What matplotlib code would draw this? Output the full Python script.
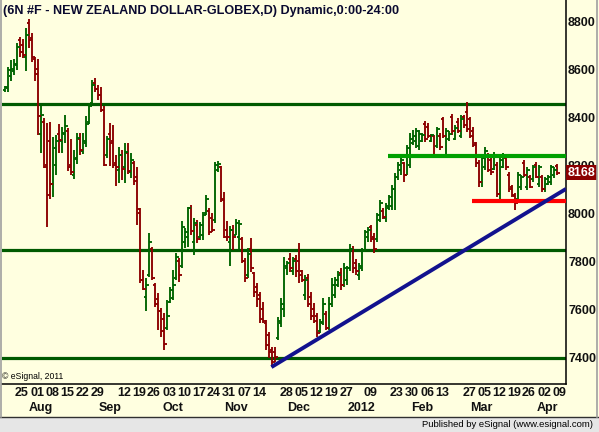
import matplotlib
matplotlib.use("Agg")
import matplotlib.pyplot as plt
import matplotlib.transforms as mtransforms
from matplotlib.lines import Line2D
from matplotlib.patches import Rectangle
import pandas as pd

plt.rcParams['font.family'] = ['Liberation Sans', 'DejaVu Sans']

# ---------------- data ----------------
opens = [8512, 8520, 8570, 8590, 8615, 8720, 8700, 8650, 8790, 8730,
         8640, 8600, 8330, 8380, 8200, 8300, 8120, 8200, 8330, 8300,
         8330, 8340, 8200, 8160, 8230, 8310, 8260, 8290, 8380, 8460,
         8540, 8515, 8490, 8430, 8240, 8330, 8300, 8210, 8180, 8240,
         8190, 8250, 8170, 8210, 8150, 8000, 7720, 7650, 7740, 7850,
         7700, 7640, 7590, 7560, 7520, 7630, 7645, 7730, 7800, 7780,
         7880, 7900, 8020, 7880, 7950, 7900, 7910, 8000, 8010, 7980,
         7970, 8180, 8190, 8055, 7930, 7880, 7930, 7910, 7900, 7890,
         7800, 7740, 7850, 7750, 7690, 7660, 7600, 7540, 7490, 7430,
         7420, 7480, 7540, 7600, 7770, 7810, 7760, 7810, 7800, 7760,
         7660, 7730, 7650, 7600, 7570, 7510, 7540, 7580, 7520, 7620,
         7660, 7700, 7750, 7700, 7720, 7770, 7850, 7790, 7740, 7770,
         7845, 7900, 7940, 7900, 7890, 7970, 8010, 7980, 8020, 8030,
         8100, 8150, 8180, 8210, 8160, 8200, 8290, 8300, 8280, 8300,
         8370, 8360, 8300, 8320, 8280, 8320, 8390, 8240, 8310, 8400,
         8310, 8380, 8320, 8400, 8420, 8390, 8340, 8290, 8210, 8130,
         8190, 8240, 8220, 8185, 8200, 8080, 8190, 8230, 8160, 8110,
         8070, 8060, 8110, 8210, 8110, 8150, 8140, 8200, 8120, 8150,
         8100, 8120, 8130, 8160, 8195]
highs = [8530, 8608, 8637, 8642, 8707, 8732, 8724, 8769, 8807, 8749,
         8651, 8640, 8446, 8394, 8374, 8381, 8318, 8325, 8371, 8360,
         8408, 8353, 8307, 8263, 8332, 8335, 8332, 8404, 8457, 8554,
         8562, 8533, 8525, 8446, 8321, 8376, 8367, 8242, 8276, 8263,
         8293, 8290, 8249, 8218, 8193, 8020, 7762, 7728, 7915, 7860,
         7710, 7665, 7603, 7582, 7637, 7693, 7762, 7832, 7811, 7965,
         7936, 8026, 8033, 7978, 7971, 7964, 8005, 8075, 8019, 7998,
         8214, 8217, 8196, 8089, 7965, 7945, 7950, 7975, 7972, 7900,
         7811, 7853, 7894, 7756, 7707, 7672, 7630, 7554, 7505, 7443,
         7443, 7568, 7644, 7818, 7800, 7832, 7818, 7825, 7874, 7762,
         7741, 7745, 7672, 7624, 7582, 7560, 7644, 7590, 7650, 7728,
         7732, 7760, 7770, 7790, 7780, 7870, 7862, 7810, 7790, 7853,
         7930, 7943, 7950, 7915, 7998, 8054, 8020, 8040, 8075, 8117,
         8165, 8214, 8228, 8214, 8283, 8332, 8346, 8355, 8346, 8332,
         8383, 8374, 8328, 8325, 8360, 8332, 8401, 8353, 8340, 8411,
         8367, 8395, 8408, 8408, 8464, 8401, 8360, 8297, 8221, 8242,
         8276, 8249, 8235, 8256, 8214, 8240, 8249, 8242, 8172, 8117,
         8082, 8172, 8158, 8221, 8193, 8158, 8200, 8214, 8200, 8158,
         8151, 8158, 8200, 8190, 8203]
lows = [8505, 8505, 8551, 8575, 8596, 8649, 8644, 8593, 8689, 8630,
        8551, 8325, 8251, 8186, 7943, 8057, 8068, 8158, 8251, 8251,
        8293, 8176, 8157, 8143, 8204, 8242, 8245, 8276, 8371, 8455,
        8504, 8471, 8422, 8196, 8230, 8196, 8186, 8113, 8124, 8138,
        8124, 8163, 8145, 8117, 7950, 7707, 7679, 7593, 7735, 7721,
        7610, 7512, 7485, 7429, 7512, 7624, 7638, 7721, 7714, 7770,
        7853, 7860, 7908, 7825, 7874, 7887, 7887, 7992, 7908, 7922,
        7957, 8172, 8047, 7894, 7885, 7780, 7845, 7908, 7845, 7790,
        7714, 7728, 7756, 7651, 7610, 7540, 7540, 7429, 7395, 7360,
        7380, 7471, 7526, 7568, 7740, 7755, 7741, 7735, 7707, 7714,
        7637, 7610, 7554, 7540, 7485, 7500, 7533, 7512, 7512, 7610,
        7645, 7690, 7680, 7690, 7700, 7760, 7750, 7740, 7720, 7760,
        7840, 7880, 7880, 7832, 7880, 7964, 7975, 7964, 8012, 8012,
        8012, 8137, 8158, 8128, 8158, 8186, 8283, 8270, 8262, 8297,
        8297, 8311, 8297, 8228, 8270, 8262, 8311, 8228, 8300, 8325,
        8304, 8332, 8311, 8353, 8339, 8311, 8276, 8193, 8110, 8110,
        8179, 8172, 8158, 8179, 8068, 8060, 8186, 8179, 8089, 8068,
        8012, 8054, 8096, 8151, 8096, 8103, 8131, 8144, 8110, 8089,
        8089, 8117, 8117, 8145, 8158]
closes = [8525, 8595, 8600, 8620, 8690, 8670, 8660, 8740, 8720, 8650,
          8580, 8405, 8408, 8190, 8075, 8120, 8270, 8300, 8306, 8335,
          8361, 8190, 8172, 8225, 8311, 8263, 8300, 8370, 8446, 8535,
          8515, 8490, 8430, 8200, 8310, 8290, 8200, 8190, 8240, 8185,
          8254, 8175, 8220, 8135, 8015, 7720, 7685, 7700, 7880, 7730,
          7620, 7590, 7510, 7456, 7570, 7680, 7700, 7815, 7740, 7940,
          7920, 8020, 7925, 7960, 7890, 7950, 7990, 8060, 7920, 7930,
          8200, 8205, 8060, 7900, 7900, 7930, 7900, 7960, 7955, 7800,
          7730, 7830, 7770, 7670, 7640, 7560, 7550, 7450, 7420, 7380,
          7400, 7550, 7620, 7780, 7790, 7770, 7800, 7760, 7740, 7720,
          7720, 7620, 7570, 7550, 7500, 7545, 7620, 7520, 7620, 7700,
          7720, 7740, 7700, 7770, 7770, 7850, 7770, 7760, 7780, 7840,
          7920, 7930, 7890, 7850, 7990, 8040, 7985, 8030, 8065, 8100,
          8150, 8200, 8220, 8160, 8270, 8310, 8320, 8340, 8330, 8325,
          8310, 8320, 8325, 8240, 8350, 8275, 8320, 8340, 8330, 8340,
          8355, 8340, 8390, 8365, 8350, 8320, 8283, 8210, 8130, 8228,
          8260, 8180, 8170, 8240, 8080, 8220, 8240, 8190, 8100, 8075,
          8040, 8160, 8150, 8160, 8180, 8110, 8190, 8150, 8190, 8100,
          8140, 8150, 8190, 8180, 8168]

holidays = ['2011-09-05', '2011-11-24', '2011-12-26', '2012-01-02',
            '2012-01-16', '2012-02-20']
first_day, last_day = '2011-07-18', '2012-04-09'

day_label_dates = ['2011-07-25', '2011-08-01', '2011-08-08', '2011-08-15', '2011-08-22',
                   '2011-08-29', '2011-09-12', '2011-09-19', '2011-09-26', '2011-10-03',
                   '2011-10-10', '2011-10-17', '2011-10-24', '2011-10-31', '2011-11-07',
                   '2011-11-14', '2011-11-28', '2011-12-05', '2011-12-12', '2011-12-19',
                   '2011-12-27', '2012-01-09', '2012-01-23', '2012-01-30', '2012-02-06',
                   '2012-02-13', '2012-02-27', '2012-03-05', '2012-03-12', '2012-03-19',
                   '2012-03-26', '2012-04-02', '2012-04-09']
month_starts = ['2011-08-01', '2011-09-01', '2011-10-01', '2011-11-01', '2011-12-01',
                '2012-01-01', '2012-02-01', '2012-03-01', '2012-04-01']
month_labels = ['Aug', 'Sep', 'Oct', 'Nov', 'Dec', '2012', 'Feb', 'Mar', 'Apr']

support_levels = [8455, 7847, 7396]          # full-width dark green lines
green_level, green_from = 8237, '2012-01-19'  # short bright green line
red_level, red_from = 8052, '2012-02-29'      # short red line
trend_start = ('2011-11-21', 7358)            # blue trend line from the low
trend_slope = 7.56                            # price units per bar

title = "(6N #F - NEW ZEALAND DOLLAR-GLOBEX,D) Dynamic,0:00-24:00"
last_price = 8168
y_ticks = [7400, 7600, 7800, 8000, 8200, 8400, 8600, 8800]

# ---------------- figure ----------------
W, H = 599, 432
BG = '#FFFFE0'
fig = plt.figure(figsize=(W / 100, H / 100), dpi=100, facecolor=BG)

ax_l, ax_r, ax_t, ax_b = 2, 566, 0, 384
ax = fig.add_axes([ax_l / W, 1 - ax_b / H, (ax_r - ax_l) / W, (ax_b - ax_t) / H])
ax.set_facecolor(BG)

dates = pd.bdate_range(first_day, last_day)
dates = dates[~dates.isin(pd.to_datetime(holidays))]
n = len(closes)
idx = list(range(n))

def pos(d):
    return int(dates.searchsorted(pd.Timestamp(d)))

up_c, dn_c = '#006400', '#8B0000'
cols = [up_c if c >= o else dn_c for o, c in zip(opens, closes)]
lw = 1.35
ax.vlines(idx, lows, highs, colors=cols, linewidth=lw, zorder=3)
ax.hlines(opens, [i - 0.75 for i in idx], idx, colors=cols, linewidth=lw, zorder=3)
ax.hlines(closes, idx, [i + 0.75 for i in idx], colors=cols, linewidth=lw, zorder=3)

x0 = (ax_l - 5.3) / 3.0
x1 = (ax_r - 5.3) / 3.0
ax.set_xlim(x0, x1)
ax.set_ylim(8800 - (ax_b - 21) / 0.24, 8800 + (21 - ax_t) / 0.24)

for lv in support_levels:
    ax.axhline(lv, color='#005A00', linewidth=2.3, zorder=2)
ax.plot([pos(green_from) - 0.5, x1], [green_level, green_level], color='#00A000',
        linewidth=3.0, solid_capstyle='butt', zorder=4)
ax.plot([pos(red_from) - 0.5, x1], [red_level, red_level], color='#FF0000',
        linewidth=3.0, solid_capstyle='butt', zorder=4)
ts = pos(trend_start[0]) - 0.3
ax.plot([ts, x1], [trend_start[1], trend_start[1] + trend_slope * (x1 - ts)],
        color='#12128E', linewidth=2.8, solid_capstyle='butt', zorder=5)

# axes styling
for s in ['left', 'top']:
    ax.spines[s].set_visible(False)
for s in ['right', 'bottom']:
    ax.spines[s].set_color('#000000')
    ax.spines[s].set_linewidth(1.1)
ax.set_xticks([])
ax.yaxis.tick_right()
ax.set_yticks(y_ticks)
ax.set_yticklabels([str(v) for v in y_ticks])
ax.tick_params(axis='y', length=0, pad=1.5, labelsize=9, labelcolor='#111111')
for lb in ax.get_yticklabels():
    lb.set_fontweight('bold')

# price flag
ax.text(1.0 + 1.5 / (ax_r - ax_l), last_price, str(last_price),
        transform=mtransforms.blended_transform_factory(ax.transAxes, ax.transData),
        ha='left', va='center', color='white', fontsize=9, fontweight='bold',
        bbox=dict(boxstyle='square,pad=0.12', fc='#8B0000', ec='none'),
        zorder=20, clip_on=False)

# title
fig.text(3 / W, 1 - 11 / H, title, ha='left', va='center', fontsize=9.1,
         fontweight='bold', color='#0A0A30')
fig.text(2 / W, 1 - 376.5 / H, '\u00a9 eSignal, 2011', ha='left', va='center',
         fontsize=6.2, color='#000000')

# x labels
tr_day = mtransforms.blended_transform_factory(ax.transData, fig.transFigure)
for d in day_label_dates:
    ax.text(pos(d) + 0.57, 1 - 393 / H, pd.Timestamp(d).strftime('%d'), transform=tr_day,
            ha='center', va='center', fontsize=9, fontweight='bold', color='#111111',
            clip_on=False)
for d, lab in zip(month_starts, month_labels):
    ax.text(pos(d) + 1.8, 1 - 408 / H, lab, transform=tr_day, ha='center', va='center',
            fontsize=9, fontweight='bold', color='#111111', clip_on=False)

# status bar & frame
fig.patches.append(Rectangle((0, 0), 1, 15 / H, transform=fig.transFigure,
                             facecolor='#E6E6E6', edgecolor='none', zorder=0))
fig.lines.append(Line2D([0, 1], [15 / H, 15 / H], transform=fig.transFigure,
                        color='#303030', linewidth=1.0))
fig.lines.append(Line2D([0.6 / W, 0.6 / W], [15 / H, 1], transform=fig.transFigure,
                        color='#A0A0A0', linewidth=1.2))
fig.lines.append(Line2D([597 / W, 597 / W], [15 / H, 1], transform=fig.transFigure,
                        color='#A0A0A0', linewidth=1.2))
fig.text(593 / W, 7.5 / H, 'Published by eSignal (www.esignal.com)', ha='right',
         va='center', fontsize=6.8, color='#000000')

fig.savefig('out.png', dpi=100, facecolor=BG)
